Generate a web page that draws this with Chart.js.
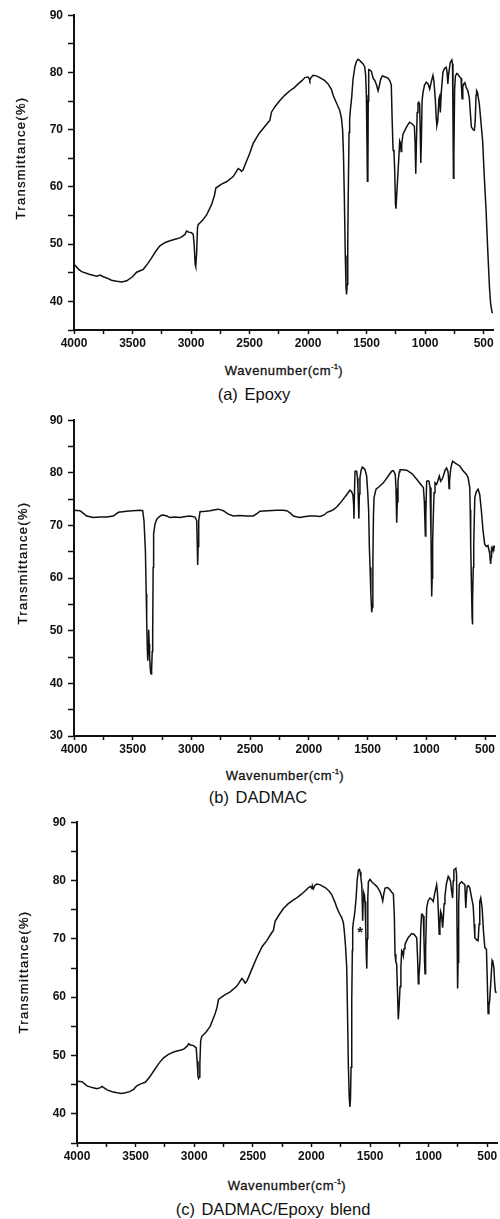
<!DOCTYPE html>
<html>
<head>
<meta charset="utf-8">
<script src="https://cdn.jsdelivr.net/npm/chart.js@4.4.1/dist/chart.umd.min.js"></script>
<style>
  body { margin: 0; background: #fff; width: 500px; height: 1219px; position: relative; overflow: hidden;
         font-family: 'Liberation Sans', Arial, sans-serif; color: #111; }
  canvas { position: absolute; left: 0; }
  .txt { position: absolute; white-space: nowrap; transform: translate(-50%, -50%); }
  .ytitle { font-size: 13px; letter-spacing: 1.3px; -webkit-text-stroke: 0.3px #111;
            transform: translate(-50%, -50%) rotate(-90deg); }
  .xtitle { font-size: 13px; letter-spacing: 0.6px; -webkit-text-stroke: 0.3px #111; }
  .xtitle sup { font-size: 8px; letter-spacing: 0; }
  .caption { font-size: 16.5px; word-spacing: 2px; }
</style>
</head>
<body>
<canvas id="epoxyChart" width="500" height="357" style="top:3px"></canvas>
<canvas id="dadmacChart" width="500" height="358" style="top:408px"></canvas>
<canvas id="blendChart" width="500" height="363" style="top:810px"></canvas>

<div class="txt ytitle" style="left:20px; top:158px">Transmittance(%)</div>
<div class="txt xtitle" style="left:284px; top:370px">Wavenumber(cm<sup>-1</sup>)</div>
<div class="txt caption" style="left:254px; top:394px">(a) Epoxy</div>

<div class="txt ytitle" style="left:22px; top:563px">Transmittance(%)</div>
<div class="txt xtitle" style="left:285px; top:775px">Wavenumber(cm<sup>-1</sup>)</div>
<div class="txt caption" style="left:258px; top:797px">(b) DADMAC</div>

<div class="txt ytitle" style="left:23px; top:972px">Transmittance(%)</div>
<div class="txt xtitle" style="left:287px; top:1185px">Wavenumber(cm<sup>-1</sup>)</div>
<div class="txt caption" style="left:273px; top:1209px">(c) DADMAC/Epoxy blend</div>

<script>
// tick positions (labels only on multiples of 500 / 10)
const xTicks = [4000, 3750, 3500, 3250, 3000, 2750, 2500, 2250, 2000, 1750, 1500, 1250, 1000, 750, 500];
const yTicks = [30, 35, 40, 45, 50, 55, 60, 65, 70, 75, 80, 85, 90];

// (a) Epoxy
const epoxyWn = [4000, 3960, 3935, 3863, 3806, 3778, 3750, 3721, 3680, 3636, 3590, 3550, 3500, 3465, 3430, 3408,
  3370, 3337, 3300, 3266, 3220, 3180, 3130, 3095, 3065, 3052, 3038, 3020, 2996, 2981, 2972, 2965, 2960, 2952, 2945,
  2939, 2900, 2867, 2825, 2800, 2788, 2740, 2697, 2640, 2597, 2580, 2569, 2555, 2540, 2500, 2469, 2420, 2384, 2340,
  2327, 2312, 2280, 2241, 2200, 2156, 2120, 2085, 2050, 2028, 2000, 1990, 1985, 1975, 1957, 1930, 1900, 1860, 1829,
  1800, 1786, 1760, 1730, 1715, 1705, 1698, 1690, 1682, 1676, 1671, 1666, 1661, 1656, 1650, 1645, 1638, 1628, 1616,
  1600, 1585, 1573, 1560, 1545, 1530, 1516, 1508, 1502, 1497, 1493, 1489, 1486, 1482, 1470, 1459, 1445, 1430, 1415,
  1402, 1392, 1380, 1365, 1340, 1317, 1300, 1289, 1282, 1274, 1266, 1260, 1253, 1249, 1243, 1236, 1225, 1217, 1210,
  1205, 1200, 1189, 1170, 1150, 1132, 1110, 1092, 1086, 1080, 1075, 1068, 1061, 1054, 1047, 1042, 1037, 1032, 1026,
  1018, 1005, 990, 975, 961, 948, 933, 925, 913, 905, 899, 892, 882, 876, 870, 862, 848, 835, 820, 812, 806, 800, 786,
  772, 766, 762, 758, 754, 748, 741, 730, 721, 705, 693, 688, 684, 678, 670, 660, 650, 635, 622, 612, 605, 590, 579,
  572, 565, 560, 552, 545, 537, 525, 508, 495, 480, 465, 450, 440, 428, 420];
const epoxyT = [46.5, 45.6, 45.2, 44.7, 44.4, 44.6, 44.3, 44.1, 43.7, 43.5, 43.4, 43.6, 44.3, 45.1, 45.4, 45.6,
  46.6, 47.6, 48.8, 49.7, 50.3, 50.6, 50.9, 51.1, 51.5, 51.7, 52.3, 52.1, 52.0, 51.7, 49.5, 46.5, 46.1, 48.5, 52.8,
  53.4, 54.2, 55.1, 56.9, 58.5, 59.8, 60.5, 60.9, 61.8, 63.2, 63.0, 62.7, 63.0, 63.8, 65.8, 67.6, 69.3, 70.2, 71.3,
  71.6, 73.1, 74.1, 75.1, 76.0, 76.8, 77.3, 78.0, 78.6, 79.1, 79.2, 78.9, 78.6, 79.1, 79.5, 79.4, 79.1, 78.6, 78.0,
  77.0, 76.0, 74.8, 73.4, 72.0, 70.0, 66.0, 58.0, 48.0, 42.5, 41.2, 43.0, 50.0, 60.0, 69.5, 71.8, 73.6, 75.5, 78.8,
  81.0, 82.0, 82.3, 82.1, 81.8, 81.5, 81.0, 79.5, 76.0, 68.0, 61.0, 62.0, 75.0, 80.5, 80.4, 80.2, 79.0, 78.6, 77.8,
  76.8, 77.6, 78.8, 79.4, 79.2, 79.0, 78.5, 77.8, 72.0, 66.5, 66.0, 63.0, 57.0, 56.2, 58.5, 61.0, 65.0, 68.0, 67.6,
  66.2, 67.5, 69.2, 70.0, 70.8, 71.3, 71.0, 70.6, 68.0, 62.3, 67.0, 73.0, 74.6, 74.8, 74.5, 70.0, 64.2, 68.0, 75.0,
  76.5, 77.8, 78.3, 78.0, 77.1, 78.3, 79.5, 78.5, 75.3, 72.0, 70.8, 71.5, 75.4, 75.8, 73.0, 76.5, 80.0, 80.7, 80.9,
  80.0, 78.0, 79.5, 81.7, 82.2, 81.5, 72.0, 61.5, 66.0, 77.0, 79.4, 79.8, 79.7, 79.2, 79.0, 77.0, 75.4, 77.5, 78.0,
  78.2, 77.4, 76.8, 75.5, 72.5, 70.5, 70.0, 69.9, 71.5, 76.0, 76.8, 76.5, 75.5, 74.5, 71.8, 67.9, 62.0, 56.3, 49.0,
  42.4, 39.5, 38.1, 38.0];

// (b) DADMAC
const dadmacWn = [4000, 3949, 3920, 3892, 3835, 3780, 3722, 3665, 3622, 3551, 3500, 3438, 3415, 3404, 3392, 3385,
  3381, 3376, 3372, 3368, 3364, 3360, 3356, 3351, 3347, 3342, 3339, 3334, 3330, 3326, 3322, 3310, 3295, 3282, 3260,
  3239, 3210, 3182, 3140, 3097, 3050, 3012, 2970, 2955, 2950, 2947, 2943, 2938, 2927, 2880, 2842, 2800, 2771, 2728,
  2690, 2643, 2590, 2530, 2473, 2440, 2416, 2350, 2274, 2220, 2189, 2160, 2132, 2100, 2076, 2030, 1990, 1950, 1905,
  1870, 1845, 1820, 1790, 1763, 1735, 1707, 1680, 1650, 1636, 1625, 1619, 1616, 1612, 1607, 1593, 1586, 1582, 1578,
  1574, 1570, 1565, 1555, 1545, 1530, 1522, 1508, 1498, 1491, 1485, 1479, 1472, 1465, 1460, 1455, 1450, 1445, 1428,
  1400, 1366, 1330, 1295, 1281, 1270, 1264, 1258, 1252, 1247, 1241, 1230, 1224, 1200, 1167, 1120, 1068, 1040, 1025,
  1017, 1012, 1008, 1004, 997, 985, 977, 968, 960, 956, 954, 950, 946, 940, 934, 926, 912, 900, 889, 878, 865, 855,
  840, 827, 816, 812, 806, 802, 793, 785, 776, 750, 715, 690, 658, 644, 630, 626, 622, 615, 610, 608, 604, 600, 596,
  587, 573, 559, 545, 531, 517, 503, 489, 475, 465, 460, 456, 452, 448, 444, 438, 432, 425, 418];
const dadmacT = [72.9, 72.8, 72.3, 71.8, 71.5, 71.6, 71.6, 71.8, 72.5, 72.7, 72.8, 72.9, 72.8, 70.9, 65.2, 57.0,
  52.0, 47.0, 44.3, 47.0, 50.2, 47.5, 45.0, 43.0, 42.0, 41.8, 42.6, 46.0, 49.5, 62.0, 68.4, 70.3, 71.2, 71.5, 71.9,
  72.0, 71.8, 71.5, 71.6, 71.5, 71.7, 71.8, 71.6, 70.9, 66.0, 62.5, 66.0, 70.9, 72.6, 72.7, 72.8, 73.0, 73.1, 72.8,
  72.2, 71.8, 71.9, 71.8, 71.8, 72.3, 72.7, 72.8, 72.9, 72.9, 72.8, 72.4, 71.8, 71.6, 71.5, 71.7, 71.8, 71.8, 71.7,
  72.0, 72.5, 72.7, 73.0, 73.5, 74.2, 75.0, 75.8, 76.7, 76.4, 75.8, 74.0, 71.3, 76.0, 80.3, 80.3, 79.0, 77.2, 74.0,
  71.3, 76.0, 79.1, 80.5, 81.1, 80.8, 80.6, 79.4, 76.0, 72.8, 66.0, 62.0, 57.0, 53.5, 54.5, 63.0, 72.0, 75.3, 76.9,
  77.4, 78.1, 79.2, 80.3, 80.4, 80.0, 79.6, 77.0, 70.5, 74.5, 78.4, 80.2, 80.6, 80.6, 80.5, 79.8, 78.4, 77.6, 77.2,
  74.7, 71.0, 68.0, 72.0, 78.4, 78.5, 78.4, 77.2, 68.0, 60.0, 56.5, 60.0, 67.1, 72.0, 76.2, 78.1, 77.8, 78.6, 79.4,
  78.4, 78.8, 79.4, 80.5, 80.9, 80.3, 79.5, 77.0, 78.5, 80.6, 81.5, 82.2, 81.8, 81.3, 80.5, 79.7, 79.1, 77.2, 73.0,
  66.5, 58.0, 52.5, 51.2, 56.0, 62.0, 66.5, 75.3, 76.5, 76.9, 75.9, 72.8, 69.0, 66.5, 66.0, 66.2, 65.2, 64.6, 63.5,
  62.7, 64.0, 65.6, 65.3, 65.9, 65.6, 66.2];

// (c) DADMAC/Epoxy blend
const blendWn = [4000, 3957, 3915, 3870, 3830, 3800, 3787, 3765, 3744, 3700, 3659, 3620, 3588, 3550, 3517, 3490,
  3460, 3435, 3418, 3380, 3347, 3300, 3261, 3220, 3176, 3140, 3119, 3090, 3077, 3060, 3048, 3030, 3006, 2983, 2975,
  2968, 2963, 2958, 2952, 2945, 2935, 2900, 2864, 2821, 2805, 2793, 2740, 2693, 2636, 2594, 2580, 2565, 2550, 2537,
  2500, 2466, 2420, 2381, 2340, 2324, 2310, 2280, 2239, 2200, 2153, 2120, 2082, 2050, 2025, 2005, 1995, 1990, 1983,
  1970, 1954, 1930, 1883, 1850, 1827, 1800, 1784, 1760, 1741, 1728, 1721, 1710, 1699, 1692, 1685, 1678, 1672, 1667,
  1662, 1656, 1651, 1648, 1640, 1636, 1628, 1619, 1610, 1599, 1590, 1585, 1578, 1571, 1566, 1563, 1559, 1554, 1548,
  1543, 1537, 1532, 1528, 1524, 1519, 1514, 1500, 1486, 1465, 1443, 1430, 1415, 1400, 1392, 1382, 1372, 1350, 1330,
  1315, 1301, 1293, 1287, 1280, 1273, 1266, 1259, 1252, 1244, 1237, 1230, 1223, 1216, 1210, 1202, 1175, 1145, 1125,
  1102, 1095, 1088, 1083, 1074, 1067, 1060, 1053, 1046, 1040, 1035, 1031, 1026, 1017, 1005, 989, 975, 961, 948, 932,
  925, 918, 910, 904, 898, 890, 881, 875, 868, 861, 848, 833, 823, 813, 805, 796, 790, 785, 768, 762, 758, 753, 749,
  744, 739, 730, 719, 705, 691, 687, 683, 678, 671, 660, 649, 635, 620, 612, 606, 590, 578, 570, 564, 556, 550, 544,
  533, 521, 507, 500, 493, 486, 479, 470, 459, 452, 444, 437, 430, 420];
const blendT = [45.6, 45.5, 44.8, 44.5, 44.3, 44.5, 44.7, 44.4, 44.1, 43.8, 43.6, 43.5, 43.6, 43.8, 44.2, 44.8,
  45.1, 45.3, 45.4, 46.3, 47.3, 48.7, 49.6, 50.2, 50.6, 50.8, 50.9, 51.1, 51.3, 51.6, 52.0, 51.8, 51.7, 51.3, 49.0,
  46.5, 46.1, 46.3, 48.5, 52.5, 53.3, 54.0, 55.0, 57.2, 58.3, 59.6, 60.4, 60.9, 61.9, 63.2, 62.9, 62.4, 62.8, 63.4,
  65.2, 66.8, 68.7, 69.7, 71.0, 71.5, 73.0, 74.0, 75.2, 76.0, 76.7, 77.1, 77.7, 78.3, 78.8, 79.0, 78.6, 79.0, 78.6,
  79.2, 79.4, 79.3, 78.8, 78.2, 77.6, 76.3, 75.4, 74.3, 73.6, 72.8, 71.6, 69.0, 65.1, 57.0, 48.2, 43.0, 41.2, 42.5,
  48.0, 59.5, 68.0, 71.9, 73.2, 73.6, 75.0, 77.0, 80.0, 81.8, 81.9, 81.5, 80.5, 79.3, 76.0, 73.1, 76.5, 77.9, 77.5,
  76.4, 72.0, 67.0, 64.9, 70.0, 77.0, 79.8, 80.2, 79.8, 79.4, 79.0, 78.6, 78.1, 77.2, 76.5, 77.8, 78.7, 78.8, 78.4,
  78.0, 77.7, 74.0, 67.4, 66.0, 65.7, 61.0, 56.2, 58.5, 61.8, 65.0, 68.0, 67.8, 67.1, 68.3, 69.1, 70.2, 70.9, 70.8,
  70.2, 67.0, 62.3, 63.5, 66.3, 72.0, 74.2, 74.2, 73.9, 70.0, 66.0, 64.0, 68.5, 75.3, 76.5, 77.0, 76.8, 76.4, 77.8,
  79.3, 78.0, 75.0, 70.8, 72.5, 74.7, 74.2, 71.9, 73.5, 76.0, 77.3, 79.5, 80.7, 80.4, 79.8, 78.3, 77.0, 80.0, 81.8,
  82.1, 81.0, 72.0, 61.5, 66.0, 76.0, 79.3, 79.6, 79.8, 79.5, 79.3, 77.0, 75.3, 77.5, 79.0, 79.1, 78.7, 77.2, 75.6,
  72.5, 70.2, 69.8, 69.7, 72.5, 76.4, 77.0, 76.2, 75.3, 71.5, 68.5, 68.2, 63.0, 57.2, 58.5, 59.5, 62.5, 66.3, 66.0,
  65.1, 62.5, 60.9, 60.8];

// asterisk marking the new band in the blend spectrum
const blendStar = [1585, 71.7];

const ink = '#111';
const tickFont = { family: "'Liberation Sans', Arial, sans-serif", size: 12, weight: 'bold' };

const starMark = {
  id: 'mark',
  afterDatasetsDraw(chart, args, opts) {
    if (!opts.at) return;
    const ctx = chart.ctx;
    ctx.save();
    ctx.fillStyle = ink;
    ctx.font = "bold 15px 'Liberation Sans', Arial, sans-serif";
    ctx.textAlign = 'center';
    ctx.textBaseline = 'middle';
    ctx.fillText('*', chart.scales.x.getPixelForValue(opts.at[0]), chart.scales.y.getPixelForValue(opts.at[1]) + 4);
    ctx.restore();
  }
};

function spectrum(id, wn, tr, g) {
  const points = wn.map((w, i) => ({ x: w, y: tr[i] }));
  return new Chart(document.getElementById(id), {
    type: 'line',
    data: {
      datasets: [{
        data: points,
        borderColor: ink,
        borderWidth: 1.5,
        pointRadius: 0,
        tension: 0,
        fill: false
      }]
    },
    options: {
      responsive: false,
      animation: false,
      events: [],
      layout: { padding: { top: 10, right: 500 - g.right, left: 0, bottom: 0 } },
      plugins: {
        legend: { display: false },
        tooltip: { enabled: false },
        mark: { at: g.star }
      },
      scales: {
        x: {
          type: 'linear',
          reverse: true,
          min: g.xMin,
          max: 4000,
          afterBuildTicks: s => { s.ticks = xTicks.map(v => ({ value: v })); },
          afterFit: s => { s.height = 30; },
          ticks: {
            autoSkip: false,
            maxRotation: 0,
            padding: 2,
            color: ink,
            font: tickFont,
            callback: v => (v % 500 === 0 ? v : '')
          },
          grid: { drawOnChartArea: false, tickLength: 4, tickWidth: 1.5, tickColor: ink },
          border: { color: ink, width: 2 }
        },
        y: {
          min: g.yMin,
          max: 90,
          afterBuildTicks: s => { s.ticks = yTicks.filter(v => v >= g.yMin).map(v => ({ value: v })); },
          afterFit: s => { s.width = g.left; },
          ticks: {
            autoSkip: false,
            padding: 5,
            color: ink,
            font: tickFont,
            callback: v => (v % 10 === 0 ? v : '')
          },
          grid: { drawOnChartArea: false, tickLength: 6, tickWidth: 1.5, tickColor: ink },
          border: { color: ink, width: 2 }
        }
      }
    },
    plugins: [starMark]
  });
}

document.addEventListener('DOMContentLoaded', function() {
  spectrum('epoxyChart', epoxyWn, epoxyT, { left: 74, right: 493, xMin: 420, yMin: 35 });
  spectrum('dadmacChart', dadmacWn, dadmacT, { left: 74, right: 495, xMin: 415, yMin: 30 });
  spectrum('blendChart', blendWn, blendT, { left: 77, right: 497, xMin: 417, yMin: 35, star: blendStar });
});
</script>
</body>
</html>
